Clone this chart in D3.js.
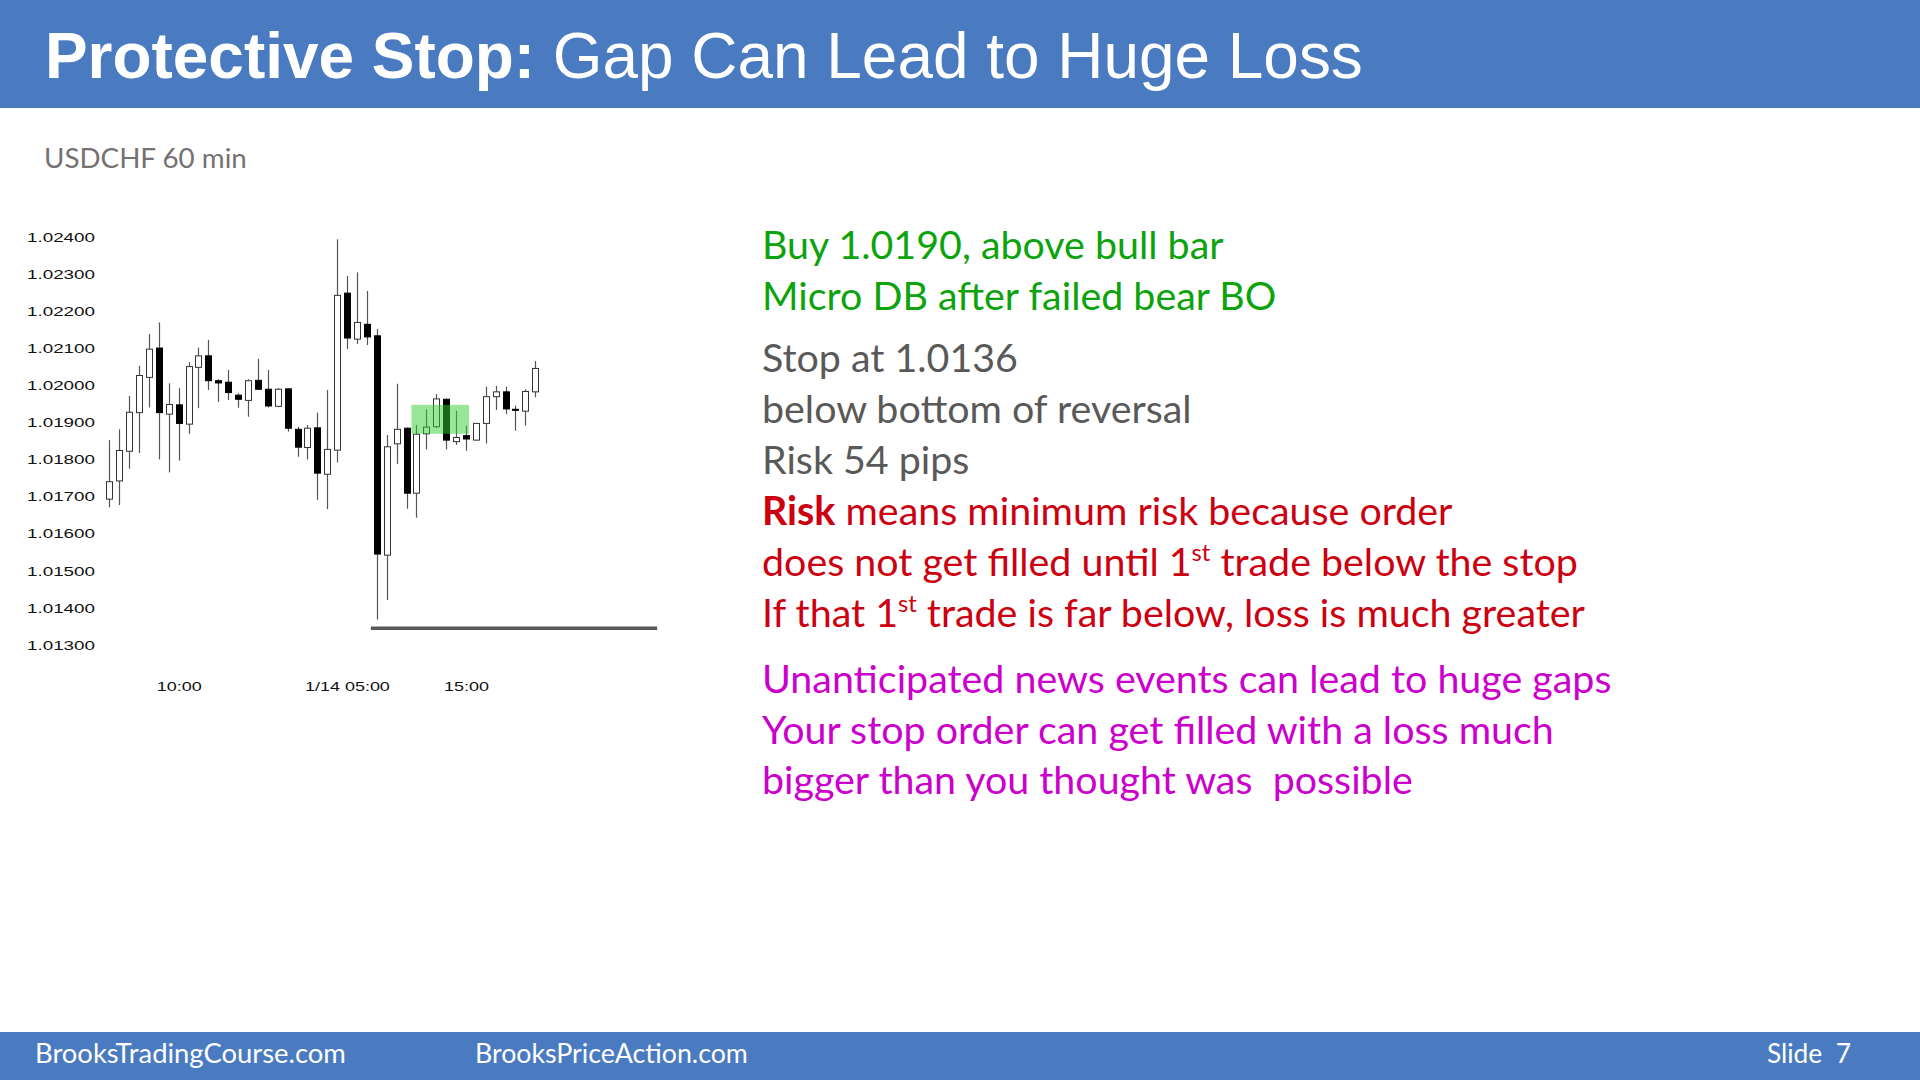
<!DOCTYPE html>
<html><head><meta charset="utf-8">
<script src="https://cdn.jsdelivr.net/npm/d3@7"></script>
<style>
html,body{margin:0;padding:0;background:#fff;overflow:hidden;}
svg{display:block;}
</style></head><body>
<svg id="c" width="1920" height="1080"></svg>
<script>
// ---- data (USDCHF 60 min) ----
const opens=[1.01693,1.01742,1.01822,1.01926,1.02021,1.02100,1.01922,1.01947,1.01895,1.02048,
1.02079,1.02012,1.02008,1.01973,1.01959,1.02013,1.01989,1.01943,1.01990,1.01881,
1.01832,1.01885,1.01760,1.01825,1.02248,1.02124,1.02164,1.02133,1.01542,1.01842,
1.01884,1.01709,1.01869,1.01888,1.01962,1.01848,1.01864,1.01852,1.01897,1.01969,
1.01982,1.01935,1.01930,1.01982];
const highs=[1.01852,1.01881,1.01971,1.02052,1.02138,1.02169,1.02005,1.01992,1.02062,1.02101,
1.02122,1.02016,1.02041,1.01978,1.02016,1.02071,1.02041,1.01992,1.01992,1.01888,
1.01893,1.01926,1.01987,1.02393,1.02294,1.02304,1.02254,1.02151,1.01866,1.02004,
1.01886,1.01893,1.01935,1.01976,1.01964,1.01931,1.01891,1.01898,1.01996,1.01998,
1.01996,1.01945,1.01989,1.02065];
const lows=[1.01671,1.01677,1.01775,1.01817,1.01940,1.01800,1.01765,1.01797,1.01869,1.01938,
1.01987,1.01955,1.01960,1.01939,1.01915,1.01988,1.01940,1.01942,1.01875,1.01807,
1.01800,1.01691,1.01666,1.01792,1.02097,1.02111,1.02108,1.01369,1.01421,1.01788,
1.01667,1.01643,1.01827,1.01884,1.01827,1.01839,1.01823,1.01851,1.01843,1.01933,
1.01922,1.01877,1.01891,1.01967];
const closes=[1.01740,1.01824,1.01927,1.02026,1.02097,1.01926,1.01948,1.01897,1.02050,1.02079,
1.02012,1.02006,1.01980,1.01962,1.02012,1.01989,1.01944,1.01989,1.01884,1.01833,
1.01884,1.01763,1.01827,1.02242,1.02127,1.02169,1.02130,1.01545,1.01834,1.01881,
1.01709,1.01868,1.01887,1.01963,1.01852,1.01859,1.01855,1.01897,1.01969,1.01982,
1.01936,1.01934,1.01983,1.02045];
const yTickValues=[1.013,1.014,1.015,1.016,1.017,1.018,1.019,1.020,1.021,1.022,1.023,1.024];
const xTickIndex=[7,26,36];
const xTickLabels=["10:00","1/14 05:00","15:00"];
const zoneBars=[31,36];
const zonePrices=[1.01947,1.01869];
const gapLinePrice=1.01345;
const gapLineSpan=[26.4,55.3];

const titleBold="Protective Stop:";
const titleRest=" Gap Can Lead to Huge Loss";
const subtitle="USDCHF 60 min";
const footerTexts=["BrooksTradingCourse.com","BrooksPriceAction.com","Slide  7"];
// each line: array of [text, style] segments; style: b=bold, s=superscript
const greenLines=[[["Buy 1.0190, above bull bar",""]],[["Micro DB after failed bear BO",""]]];
const grayLines=[[["Stop at 1.0136",""]],[["below bottom of reversal",""]],[["Risk 54 pips",""]]];
const redLines=[[["Risk","b"],[" means minimum risk because order",""]],
  [["does not get filled until 1",""],["st","s"],[" trade below the stop",""]],
  [["If that 1",""],["st","s"],[" trade is far below, loss is much greater",""]]];
const magentaLines=[[["Unanticipated news events can lead to huge gaps",""]],
  [["Your stop order can get filled with a loss much",""]],
  [["bigger than you thought was  possible",""]]];

// ---- drawing ----
const svg=d3.select("#c");
const BLUE="#4a7bc1";
const BODY_FONT="Lato, 'Open Sans', sans-serif";

svg.append("rect").attr("x",0).attr("y",0).attr("width",1920).attr("height",108).attr("fill",BLUE);
svg.append("rect").attr("x",0).attr("y",1032).attr("width",1920).attr("height",48).attr("fill",BLUE);

function fitSize(sel, target){
  const base=parseFloat(sel.attr("font-size"));
  const w=sel.node().getComputedTextLength();
  sel.attr("font-size", base*target/w);
}

// title
const title=svg.append("text").attr("x",45).attr("y",78).attr("fill","#fff")
  .attr("font-family","'Liberation Sans', Arial, sans-serif").attr("font-size",68);
title.append("tspan").attr("font-weight","bold").text(titleBold);
title.append("tspan").text(titleRest);
fitSize(title,1318);

// subtitle
const sub=svg.append("text").attr("x",44).attr("y",168).attr("fill","#767171")
  .attr("font-family",BODY_FONT).attr("font-size",28).text(subtitle);
fitSize(sub,203);

// footer
const footX=[35,475,1767], footW=[311,273,84];
footerTexts.forEach((t,i)=>{
  const f=svg.append("text").attr("x",footX[i]).attr("y",1063).attr("fill","#fff")
    .attr("font-family",BODY_FONT).attr("font-size",26).attr("xml:space","preserve").text(t);
  fitSize(f,footW[i]);
});

// chart
const x=d3.scaleLinear().domain([0,opens.length-1]).range([109.3,535.3]);
const y=d3.scaleLinear().domain([1.013,1.024]).range([645,236.7]);
const step=x(1)-x(0), bodyW=6;
const chart=svg.append("g");

const ax=chart.append("g").attr("transform","translate(95,0)")
  .call(d3.axisLeft(y).tickValues(yTickValues).tickSize(0).tickPadding(0).tickFormat(d=>d.toFixed(5)));
ax.select(".domain").remove();
ax.selectAll("text").attr("font-family","'Liberation Sans', Arial, sans-serif").attr("font-size",13.5)
  .attr("fill","#111").attr("textLength",68).attr("lengthAdjust","spacingAndGlyphs");

const bx=chart.append("g").attr("transform","translate(0,681)")
  .call(d3.axisBottom(x).tickValues(xTickIndex).tickSize(0).tickPadding(0).tickFormat((d,i)=>xTickLabels[i]));
bx.select(".domain").remove();
const STRETCH=1.33;
bx.selectAll("text").attr("font-family","'Liberation Sans', Arial, sans-serif").attr("font-size",13.5)
  .attr("fill","#111").each(function(d,i){
    const t=d3.select(this);
    const nat=this.getComputedTextLength();
    const hm=xTickLabels[i].slice(-5);
    const tmp=bx.append("text").attr("font-family","'Liberation Sans', Arial, sans-serif").attr("font-size",13.5).text(hm);
    const hmW=tmp.node().getComputedTextLength()*STRETCH; tmp.remove();
    t.attr("text-anchor","end").attr("x",hmW/2).attr("textLength",nat*STRETCH).attr("lengthAdjust","spacingAndGlyphs");
  });

const idx=d3.range(opens.length);
chart.append("g").selectAll("line").data(idx).join("line")
  .attr("x1",i=>Math.round(x(i))+0.5).attr("x2",i=>Math.round(x(i))+0.5)
  .attr("y1",i=>y(highs[i])).attr("y2",i=>y(lows[i]))
  .attr("stroke","#555").attr("stroke-width",1.2);
chart.append("g").selectAll("rect").data(idx).join("rect")
  .attr("x",i=>Math.round(x(i))+0.5-bodyW/2)
  .attr("y",i=>y(Math.max(opens[i],closes[i])))
  .attr("width",bodyW)
  .attr("height",i=>Math.max(1,Math.abs(y(opens[i])-y(closes[i]))))
  .attr("fill",i=>closes[i]>=opens[i]?"#fff":"#000")
  .attr("stroke",i=>closes[i]>=opens[i]?"#333":"#000").attr("stroke-width",1);

// highlighted micro double bottom zone
chart.append("rect")
  .attr("x",x(zoneBars[0])-step/2).attr("y",y(zonePrices[0]))
  .attr("width",x(zoneBars[1])+bodyW/2-(x(zoneBars[0])-step/2))
  .attr("height",y(zonePrices[1])-y(zonePrices[0]))
  .attr("fill","rgb(50,205,50)").attr("fill-opacity",0.5);

// gap line
chart.append("line").attr("x1",x(gapLineSpan[0])).attr("x2",x(gapLineSpan[1]))
  .attr("y1",y(gapLinePrice)).attr("y2",y(gapLinePrice))
  .attr("stroke","#595959").attr("stroke-width",3.5);

// notes
const notes=svg.append("g").attr("font-family",BODY_FONT);
const probe=notes.append("text").attr("font-size",100).text(magentaLines[0][0][0]);
const FS=100*850/probe.node().getComputedTextLength();
probe.remove();
function drawLines(lines,color,baselines){
  lines.forEach((segs,li)=>{
    const t=notes.append("text").attr("x",762).attr("y",baselines[li]).attr("fill",color)
      .attr("font-size",FS).attr("xml:space","preserve");
    segs.forEach(([txt,st])=>{
      const sp=t.append("tspan").text(txt);
      if(st==="b") sp.attr("font-weight","bold");
      if(st==="s") sp.attr("font-size",FS*0.6).attr("dy",-FS*0.38);
      if(st!=="s" && segs.length>1){
        const prev=segs[segs.indexOf(segs.find(s=>s[0]===txt))-1];
        if(prev && prev[1]==="s") sp.attr("dy",FS*0.38);
      }
    });
  });
}
drawLines(greenLines,"#0ca30c",[259,310]);
drawLines(grayLines,"#595959",[371.5,422.5,473.5]);
drawLines(redLines,"#cc0010",[524.5,575.5,626.5]);
drawLines(magentaLines,"#cc00cc",[693,743.5,794]);
</script>
</body></html>
